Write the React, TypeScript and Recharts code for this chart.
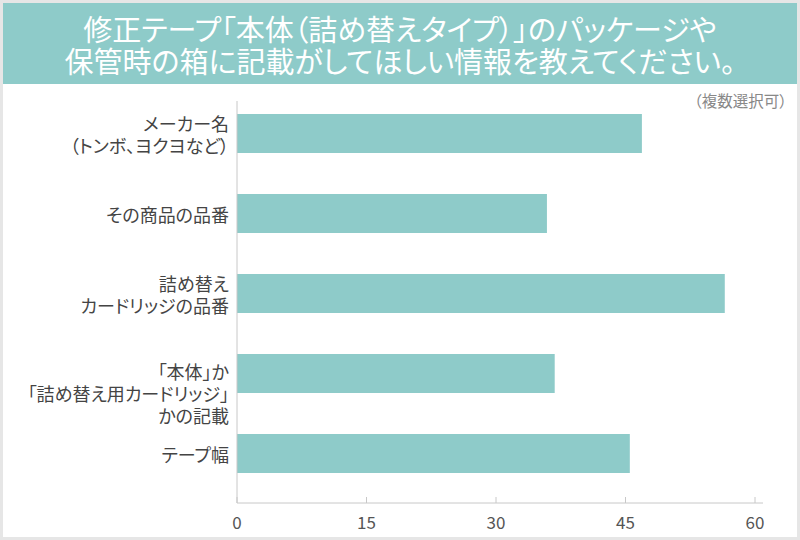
import { BarChart, Bar, XAxis, YAxis } from 'recharts';

const categories = [
  'メーカー名\n（トンボ、ヨクヨなど）',
  'その商品の品番',
  '詰め替え\nカードリッジの品番',
  '「本体」か\n「詰め替え用カードリッジ」\nかの記載',
  'テープ幅',
];
const counts = [46.9, 35.9, 56.5, 36.8, 45.5];
const xTicks = [0, 15, 30, 45, 60];

const titleLines = [
  '修正テープ「本体（詰め替えタイプ）」のパッケージや',
  '保管時の箱に記載がしてほしい情報を教えてください。',
];
const note = '（複数選択可）';

const data = categories.map((name, i) => ({ name, value: counts[i] }));

const FONT = '"Noto Sans CJK JP", "Noto Sans", sans-serif';
const TEAL = '#8ecbc9';
const PALT = { fontFeatureSettings: '"palt"' };

const CategoryTick = (props: any) => {
  const { x, y, payload } = props;
  const lines = String(payload.value).split('\n');
  const lh = 22;
  // 3-line label sits with its first line on the bar, like the original
  const start = lines.length > 2 ? y - 2 : y - ((lines.length - 1) * lh) / 2 + 1;
  return (
    <g>
      {lines.map((t, i) => (
        <text
          key={i}
          x={x}
          y={start + i * lh}
          textAnchor="end"
          dominantBaseline="central"
          fill="#444"
          fontSize={18}
          fontFamily={FONT}
          style={PALT}
        >
          {t}
        </text>
      ))}
    </g>
  );
};

const ValueTick = (props: any) => {
  const { x, y, payload } = props;
  return (
    <g>
      <line x1={x} y1={y} x2={x} y2={y - 6} stroke="#c8c8c8" />
      <text
        x={x}
        y={y + 18}
        textAnchor="middle"
        dominantBaseline="central"
        fill="#555"
        fontSize={17}
        fontFamily={FONT}
      >
        {payload.value}
      </text>
    </g>
  );
};

const App = () => {
  return (
    <div
      style={{
        position: 'absolute',
        left: 0,
        top: 0,
        width: 800,
        height: 540,
        background: '#e6e6e6',
        fontFamily: FONT,
      }}
    >
      {/* white card */}
      <div
        style={{
          position: 'absolute',
          left: 3,
          top: 3,
          width: 794,
          height: 534,
          background: '#fff',
        }}
      />

      {/* TITLE BANNER */}
      <div
        style={{
          position: 'absolute',
          left: 3,
          top: 3,
          width: 794,
          height: 81,
          background: TEAL,
          color: '#fff',
          textAlign: 'center',
          fontSize: 29,
          lineHeight: '32px',
          paddingTop: 9,
          boxSizing: 'border-box',
          ...PALT,
        }}
      >
        {titleLines.map((t, i) => (
          <div key={i}>{t}</div>
        ))}
      </div>

      <div
        style={{
          position: 'absolute',
          right: 13,
          top: 90,
          fontSize: 15.5,
          lineHeight: '20px',
          color: '#888',
          ...PALT,
        }}
      >
        {note}
      </div>

      {/* CHART */}
      <div style={{ position: 'absolute', left: 0, top: 0 }}>
        <BarChart
          width={800}
          height={540}
          data={data}
          layout="vertical"
          margin={{ top: 101, right: 37, bottom: 0, left: 0 }}
        >
          <XAxis
            type="number"
            domain={[0, 60]}
            ticks={xTicks}
            height={37}
            padding={{ left: 0, right: 8 }}
            axisLine={{ stroke: '#c8c8c8' }}
            tickLine={false}
            tickSize={0}
            tickMargin={0}
            tick={<ValueTick />}
          />
          <YAxis
            type="category"
            dataKey="name"
            width={237}
            padding={{ top: -8, bottom: 10 }}
            axisLine={{ stroke: '#c8c8c8' }}
            tickLine={false}
            tickSize={0}
            tickMargin={8}
            tick={<CategoryTick />}
            interval={0}
          />
          <Bar dataKey="value" fill={TEAL} barSize={39} isAnimationActive={false} />
        </BarChart>
      </div>
    </div>
  );
};

export default App;
